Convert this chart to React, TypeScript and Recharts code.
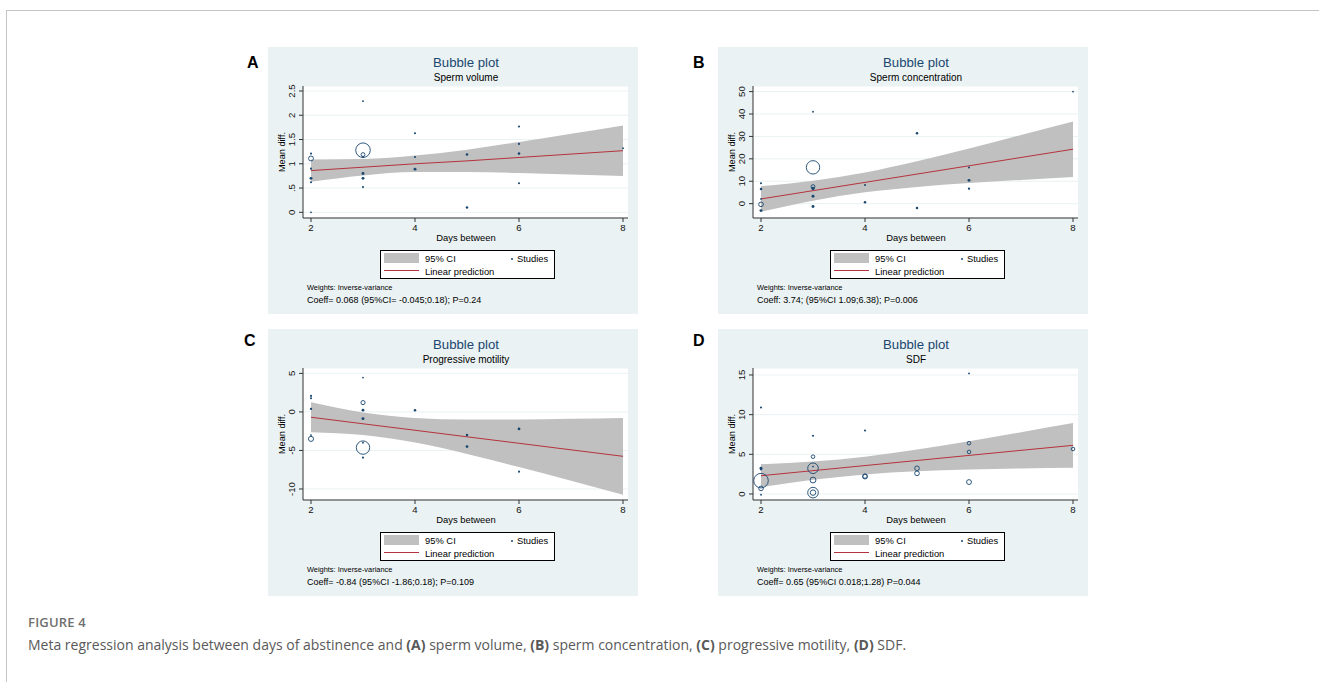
import React from "react";
import { ComposedChart, Area, Line, Scatter, XAxis, YAxis, ZAxis, CartesianGrid } from "recharts";

// days at which the CI band and the fitted line are read
const bandDays = [2, 3, 4, 5, 6, 7, 8];
const xTicks = [2, 4, 6, 8];

// A: sperm volume
const volumeStudies = [
  { x: 2, y: 1.21, w: 2 }, { x: 2, y: 1.11, w: 11 }, { x: 2, y: 0.9, w: 2 }, { x: 2, y: 0.7, w: 4 },
  { x: 2, y: 0.62, w: 2 }, { x: 2, y: 0, w: 1.5 },
  { x: 3, y: 2.29, w: 1 }, { x: 3, y: 1.28, w: 98 }, { x: 3, y: 1.19, w: 7 }, { x: 3, y: 1.14, w: 2 },
  { x: 3, y: 0.8, w: 4 }, { x: 3, y: 0.7, w: 4 }, { x: 3, y: 0.52, w: 2 },
  { x: 4, y: 1.63, w: 2 }, { x: 4, y: 1.14, w: 2 }, { x: 4, y: 0.89, w: 4 },
  { x: 5, y: 1.19, w: 3 }, { x: 5, y: 0.1, w: 3 },
  { x: 6, y: 1.77, w: 2 }, { x: 6, y: 1.41, w: 2 }, { x: 6, y: 1.21, w: 3 }, { x: 6, y: 0.6, w: 2 },
  { x: 8, y: 1.32, w: 1.5 },
];
const volumeFit = [0.86, 0.93, 1.0, 1.06, 1.13, 1.2, 1.27];
const volumeLower = [0.63, 0.76, 0.83, 0.83, 0.81, 0.78, 0.75];
const volumeUpper = [1.09, 1.1, 1.17, 1.29, 1.45, 1.62, 1.79];
const volumeTicks = [0, 0.5, 1, 1.5, 2, 2.5];

// B: sperm concentration
const concStudies = [
  { x: 2, y: 9.1, w: 2 }, { x: 2, y: 6.5, w: 3 }, { x: 2, y: 2.1, w: 1 }, { x: 2, y: -0.3, w: 10 },
  { x: 2, y: -3.1, w: 4 },
  { x: 3, y: 41, w: 1 }, { x: 3, y: 16.2, w: 83 }, { x: 3, y: 7.6, w: 7 }, { x: 3, y: 6.8, w: 5 },
  { x: 3, y: 3.3, w: 4 }, { x: 3, y: -1.3, w: 4 },
  { x: 4, y: 8.3, w: 2 }, { x: 4, y: 0.6, w: 3 },
  { x: 5, y: 31.4, w: 3 }, { x: 5, y: -1.9, w: 3 },
  { x: 6, y: 16.1, w: 2 }, { x: 6, y: 10.4, w: 4 }, { x: 6, y: 6.7, w: 2.5 },
  { x: 8, y: 50, w: 1 },
];
const concFit = [2.1, 5.8, 9.5, 13.2, 16.9, 20.6, 24.3];
const concLower = [-3.65, 1.35, 5.05, 7.45, 9.2, 10.6, 11.95];
const concUpper = [7.85, 10.25, 13.95, 18.95, 24.6, 30.6, 36.65];
const concTicks = [0, 10, 20, 30, 40, 50];

// C: progressive motility
const motilityStudies = [
  { x: 2, y: 2.08, w: 2 }, { x: 2, y: 1.77, w: 2 }, { x: 2, y: 0.39, w: 2.5 }, { x: 2, y: -3.0, w: 1 },
  { x: 2, y: -3.5, w: 12 },
  { x: 3, y: 4.46, w: 1 }, { x: 3, y: 1.21, w: 8 }, { x: 3, y: 0.22, w: 3.5 }, { x: 3, y: -0.87, w: 4 },
  { x: 3, y: -4.63, w: 83 }, { x: 3, y: -4.0, w: 1 }, { x: 3, y: -5.93, w: 2 },
  { x: 4, y: 0.22, w: 3 },
  { x: 5, y: -3.0, w: 3 }, { x: 5, y: -4.5, w: 3.5 },
  { x: 6, y: -2.2, w: 3.5 }, { x: 6, y: -7.75, w: 2 },
];
const motilityFit = [-0.69, -1.54, -2.38, -3.23, -4.07, -4.92, -5.76];
const motilityLower = [-2.64, -3.0, -3.98, -5.46, -7.16, -8.93, -10.74];
const motilityUpper = [1.26, -0.07, -0.78, -0.99, -0.98, -0.9, -0.78];
const motilityTicks = [-10, -5, 0, 5];

// D: SDF
const sdfStudies = [
  { x: 2, y: 10.9, w: 2 }, { x: 2, y: 3.24, w: 4 }, { x: 2, y: 3.1, w: 2 }, { x: 2, y: 1.68, w: 98 },
  { x: 2, y: 0.7, w: 10 }, { x: 2, y: -0.1, w: 1.5 },
  { x: 3, y: 7.35, w: 2 }, { x: 3, y: 4.7, w: 6 }, { x: 3, y: 3.24, w: 52 }, { x: 3, y: 3.45, w: 1.5 },
  { x: 3, y: 1.76, w: 16 }, { x: 3, y: 0.17, w: 52 }, { x: 3, y: 0.17, w: 14 },
  { x: 4, y: 8.0, w: 2 }, { x: 4, y: 2.2, w: 11 }, { x: 4, y: 2.25, w: 9 },
  { x: 5, y: 3.24, w: 10 }, { x: 5, y: 2.6, w: 10 },
  { x: 6, y: 15.2, w: 1.5 }, { x: 6, y: 6.4, w: 6 }, { x: 6, y: 5.3, w: 6 }, { x: 6, y: 1.5, w: 11 },
  { x: 8, y: 5.67, w: 6 },
];
const sdfFit = [2.3, 2.94, 3.58, 4.22, 4.86, 5.5, 6.13];
const sdfLower = [0.85, 1.79, 2.46, 2.85, 3.07, 3.21, 3.31];
const sdfUpper = [3.75, 4.1, 4.7, 5.6, 6.65, 7.79, 8.95];
const sdfTicks = [0, 5, 10, 15];

const NAVY = "#1a476f";
const BG = "#eaf2f3";
const FONT = "'Liberation Sans', Arial, sans-serif";

const stataNum = (v: number) => String(v).replace(/^0\./, ".").replace(/^-0\./, "-.");

const RotTick = (p: any) => (
  <text
    x={24}
    y={p.y}
    transform={`rotate(-90 24 ${p.y})`}
    textAnchor="middle"
    dominantBaseline="central"
    fontSize={9.6}
    fontFamily={FONT}
    fill="#111"
  >
    {stataNum(p.payload.value)}
  </text>
);

const Bubble = (p: any) => {
  const r = (p.width ?? 2) / 2;
  if (r < 1.8) return <circle cx={p.cx} cy={p.cy} r={Math.max(r, 0.9)} fill={NAVY} />;
  return <circle cx={p.cx} cy={p.cy} r={r} fill="none" stroke={NAVY} strokeWidth={0.9} />;
};

const Txt = ({ cx, cy, size, color = "#000", children }: any) => (
  <div
    style={{
      position: "absolute", left: cx, top: cy, transform: "translate(-50%, -50%)",
      fontSize: size, lineHeight: 1, color, whiteSpace: "nowrap",
    }}
  >
    {children}
  </div>
);

function Panel({ left, top, subtitle, studies, fit, lower, upper, yTicks, yDomain, coeff }: any) {
  const rows = bandDays.map((x, i) => ({ x, band: [lower[i], upper[i]], fit: fit[i] }));
  return (
    <div style={{ position: "absolute", left, top, width: 370, height: 267, background: BG, fontFamily: FONT }}>
      <ComposedChart width={370} height={267} data={rows} margin={{ top: 39, right: 10, bottom: 76, left: 0 }}>
        <CartesianGrid vertical={false} stroke={BG} fill="#ffffff" />
        <XAxis
          type="number" dataKey="x" domain={[1.846, 8.096]} ticks={xTicks} allowDataOverflow
          height={20} tickSize={4} tickMargin={2} stroke="#333"
          tick={{ fontSize: 9.6, fill: "#111", fontFamily: FONT }}
        />
        <YAxis
          type="number" dataKey="y" domain={yDomain} ticks={yTicks} allowDataOverflow interval={0}
          width={35} tickSize={4} stroke="#333" tick={<RotTick />}
        />
        <ZAxis type="number" dataKey="w" domain={[0, 100]} range={[0, 170]} />
        <Area dataKey="band" type="monotone" fill="#c0c0c0" fillOpacity={1} stroke="none" isAnimationActive={false} />
        <Scatter data={studies} shape={<Bubble />} isAnimationActive={false} />
        <Line dataKey="fit" type="linear" stroke="#b5333c" strokeWidth={1} dot={false} isAnimationActive={false} />
      </ComposedChart>
      <Txt cx={198} cy={16} size={13.2} color={NAVY}>Bubble plot</Txt>
      <Txt cx={198} cy={31} size={10}>{subtitle}</Txt>
      <Txt cx={198} cy={191} size={9.4}>Days between</Txt>
      <div
        style={{
          position: "absolute", left: 15, top: 105, transform: "translate(-50%, -50%) rotate(-90deg)",
          fontSize: 9.2, lineHeight: 1, whiteSpace: "nowrap",
        }}
      >
        Mean diff.
      </div>
      <div
        style={{
          position: "absolute", left: 112, top: 203, width: 173, height: 27,
          border: "1px solid #000", background: "#fff",
        }}
      >
        <div style={{ position: "absolute", left: 3, top: 2, width: 35, height: 10, background: "#c0c0c0" }} />
        <div style={{ position: "absolute", left: 3, top: 19, width: 35, height: 1, background: "#b5333c" }} />
        <div style={{ position: "absolute", left: 130, top: 7, width: 2, height: 2, borderRadius: 1, background: NAVY }} />
        <div style={{ position: "absolute", left: 44, top: 2.5, fontSize: 9.4, lineHeight: 1 }}>95% CI</div>
        <div style={{ position: "absolute", left: 136, top: 2.5, fontSize: 9.4, lineHeight: 1 }}>Studies</div>
        <div style={{ position: "absolute", left: 44, top: 15.5, fontSize: 9.4, lineHeight: 1 }}>Linear prediction</div>
      </div>
      <div style={{ position: "absolute", left: 39, top: 237, fontSize: 7.4, lineHeight: 1, whiteSpace: "nowrap" }}>
        Weights: Inverse-variance
      </div>
      <div style={{ position: "absolute", left: 39, top: 248.5, fontSize: 9, lineHeight: 1, whiteSpace: "nowrap" }}>
        {coeff}
      </div>
    </div>
  );
}

const Letter = ({ left, top, children }: any) => (
  <div style={{ position: "absolute", left, top, fontFamily: FONT, fontWeight: 700, fontSize: 16, lineHeight: 1 }}>
    {children}
  </div>
);

export default function App() {
  return (
    <div style={{ position: "absolute", left: 0, top: 0, width: 1319, height: 682, background: "#fff", overflow: "hidden" }}>
      <div style={{ position: "absolute", left: 6, top: 10, width: 1313, height: 672, borderLeft: "1px solid #c4c4c4", borderTop: "1px solid #c4c4c4" }} />
      <Letter left={247} top={54.5}>A</Letter>
      <Letter left={693} top={54.5}>B</Letter>
      <Letter left={244} top={332.5}>C</Letter>
      <Letter left={693} top={332.5}>D</Letter>
      <Panel
        left={268} top={47} subtitle="Sperm volume" studies={volumeStudies}
        fit={volumeFit} lower={volumeLower} upper={volumeUpper}
        yTicks={volumeTicks} yDomain={[-0.117, 2.603]}
        coeff="Coeff= 0.068 (95%CI= -0.045;0.18); P=0.24"
      />
      <Panel
        left={718} top={47} subtitle="Sperm concentration" studies={concStudies}
        fit={concFit} lower={concLower} upper={concUpper}
        yTicks={concTicks} yDomain={[-6.4, 52.5]}
        coeff="Coeff: 3.74; (95%CI 1.09;6.38); P=0.006"
      />
      <Panel
        left={268} top={329} subtitle="Progressive motility" studies={motilityStudies}
        fit={motilityFit} lower={motilityLower} upper={motilityUpper}
        yTicks={motilityTicks} yDomain={[-11.43, 5.7]}
        coeff="Coeff= -0.84 (95%CI -1.86;0.18); P=0.109"
      />
      <Panel
        left={718} top={329} subtitle="SDF" studies={sdfStudies}
        fit={sdfFit} lower={sdfLower} upper={sdfUpper}
        yTicks={sdfTicks} yDomain={[-0.76, 15.88]}
        coeff="Coeff= 0.65 (95%CI 0.018;1.28) P=0.044"
      />
      <div style={{ position: "absolute", left: 28, top: 613, fontFamily: "'Open Sans', sans-serif", fontWeight: 600, fontSize: 13, color: "#6f6f6f", letterSpacing: 0.2 }}>
        FIGURE 4
      </div>
      <div style={{ position: "absolute", left: 28, top: 635, fontFamily: "'Open Sans', sans-serif", fontSize: 14, color: "#595959", whiteSpace: "nowrap" }}>
        Meta regression analysis between days of abstinence and <b>(A)</b> sperm volume, <b>(B)</b> sperm concentration, <b>(C)</b> progressive motility, <b>(D)</b> SDF.
      </div>
    </div>
  );
}
